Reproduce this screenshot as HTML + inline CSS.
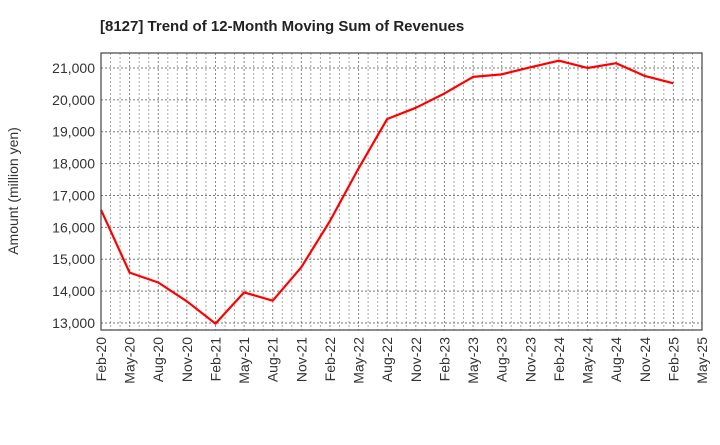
<!DOCTYPE html>
<html><head><meta charset="utf-8"><style>
body{margin:0;background:#fff;font-family:"Liberation Sans",Arial,sans-serif}
</style></head><body>
<svg id="chart" width="720" height="440" xmlns="http://www.w3.org/2000/svg">
<text x="100" y="31" font-size="15" font-weight="bold" fill="#222">[8127]  Trend of 12-Month Moving Sum of Revenues</text>
<text transform="translate(18,191) rotate(-90)" text-anchor="middle" font-size="14" fill="#333">Amount (million yen)</text>
<g id="grid"></g><g id="axes"></g><g id="series"></g>
<rect x="101" y="53" width="601" height="277" fill="none" stroke="#444" stroke-width="1.2"/>
</svg>
<script>
const categories=["Feb-20","May-20","Aug-20","Nov-20","Feb-21","May-21","Aug-21","Nov-21","Feb-22","May-22","Aug-22","Nov-22","Feb-23","May-23","Aug-23","Nov-23","Feb-24","May-24","Aug-24","Nov-24","Feb-25"];
const revenues=[16550,14580,14270,13680,12980,13960,13700,14750,16200,17850,19400,19750,20200,20720,20800,21020,21230,21000,21150,20750,20520];
const xTickLabels=["Feb-20","May-20","Aug-20","Nov-20","Feb-21","May-21","Aug-21","Nov-21","Feb-22","May-22","Aug-22","Nov-22","Feb-23","May-23","Aug-23","Nov-23","Feb-24","May-24","Aug-24","Nov-24","Feb-25","May-25"];
const yTicks=[13000,14000,15000,16000,17000,18000,19000,20000,21000];
const L=101,R=702,T=53,B=330,yMin=12780,yMax=21470;
const x=i=>L+i*(R-L)/(xTickLabels.length-1);
const y=v=>B-(v-yMin)/(yMax-yMin)*(B-T);
const NS="http://www.w3.org/2000/svg";
const g=document.getElementById('grid'),a=document.getElementById('axes'),s=document.getElementById('series');
function mk(t,at,p){const e=document.createElementNS(NS,t);for(const k in at)e.setAttribute(k,at[k]);p.appendChild(e);return e;}
const nM=(xTickLabels.length-1)*3;
for(let m=1;m<nM;m++){const xx=L+m*(R-L)/nM;
const ln=mk('line',{x1:xx,x2:xx,y1:T,y2:B,stroke:m%3?'#aaa':'#888','stroke-dasharray':'2,2','stroke-width':1},g);

}
yTicks.forEach(v=>{const yy=y(v);
const ln=mk('line',{x1:L,x2:R,y1:yy,y2:yy,stroke:'#777','stroke-dasharray':'2,2','stroke-width':1},g);


const t=mk('text',{x:L-6,y:yy+5,'text-anchor':'end','font-size':14,fill:'#333'},a);
t.textContent=v.toLocaleString('en-US');

});
xTickLabels.forEach((lb,i)=>{const xx=x(i);
const t=mk('text',{transform:`translate(${xx+5},337) rotate(-90)`,'text-anchor':'end','font-size':14,fill:'#333'},a);
t.textContent=lb;

});
const pts=revenues.map((v,i)=>x(i)+','+y(v)).join(' ');
const pl=mk('polyline',{points:pts,fill:'none',stroke:'#f00','stroke-width':2.2,'stroke-linejoin':'round'},s);


</script>
</body></html>
